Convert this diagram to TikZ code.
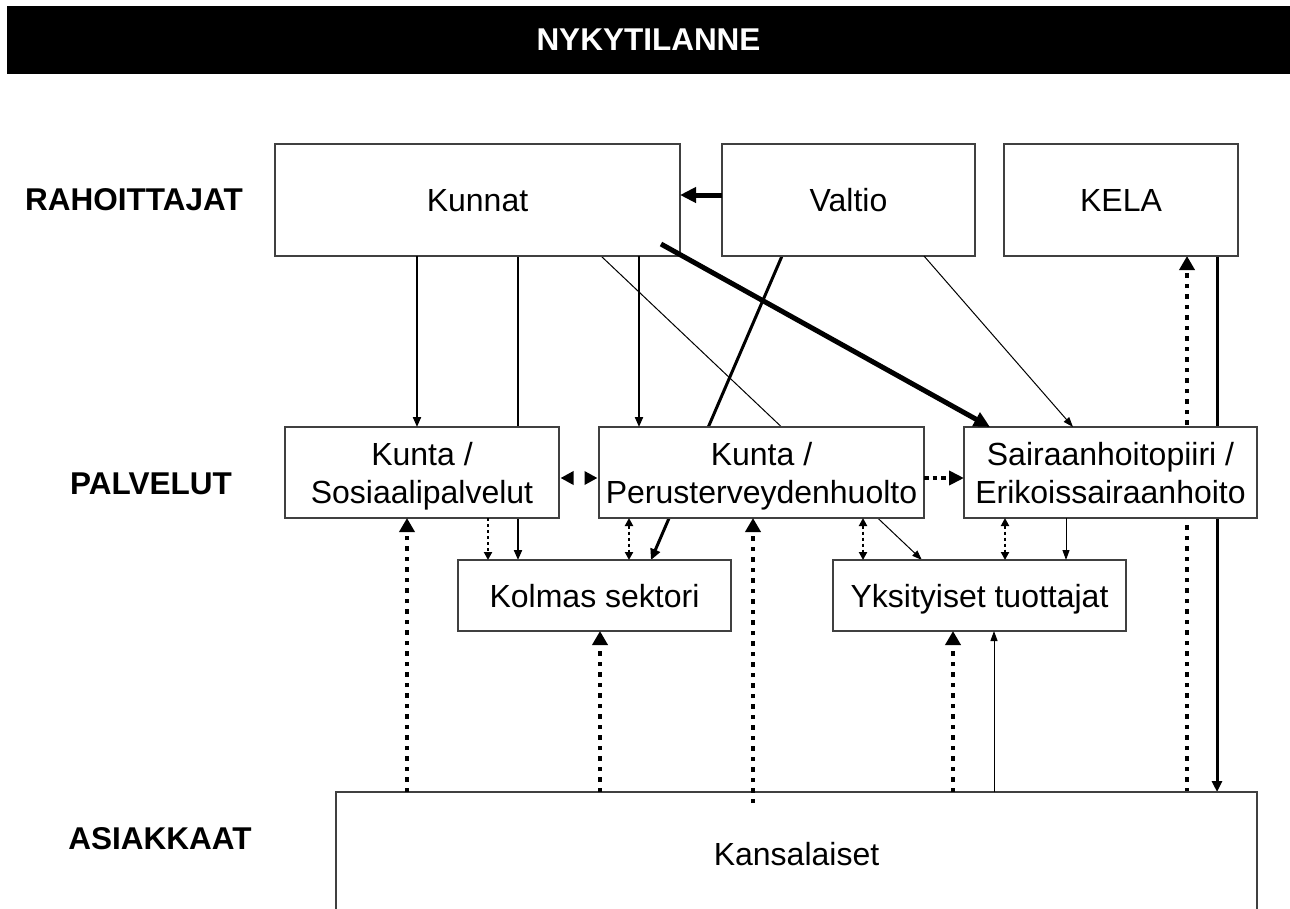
\documentclass[tikz,border=0pt]{standalone}
\usepackage{fontspec}
\setmainfont{Liberation Sans}
\usetikzlibrary{arrows.meta,backgrounds}
\newcommand\bxfont{\fontsize{32}{38}\selectfont}
\newcommand\lbfont{\bfseries\fontsize{31.5}{36}\selectfont}
\tikzset{
  box/.style={draw=black!75, line width=1.5pt, fill=white, inner sep=0pt, outer sep=0pt, font=\bxfont, align=center, text depth=0pt},
  rowlbl/.style={font=\lbfont, inner sep=0pt},
  solidarr/.style={line width=2pt, -{Triangle[length=10pt,width=8pt]}},
  thinarr/.style={line width=1pt, -{Triangle[length=10pt,width=7pt]}},
  boldarr/.style={line width=5pt, -{Triangle[length=16pt,width=15pt]}},
  medarr/.style={line width=3pt, -{Triangle[length=11pt,width=10pt]}},
  bigdots/.style={line width=4.5pt, dash pattern=on 4.5pt off 6pt},
  bigdotarr/.style={bigdots, -{Triangle[length=14pt,width=15pt]}},
  smalldots/.style={line width=2.5pt, dash pattern=on 3pt off 3pt},
  smalldotarr/.style={smalldots, -{Triangle[length=8pt,width=8pt]}},
  smalldotboth/.style={smalldots, {Triangle[length=8pt,width=8pt]}-{Triangle[length=8pt,width=8pt]}},
  middotboth/.style={line width=4pt, dash pattern=on 0pt off 30pt, shorten <=1.5pt, shorten >=1.5pt, {Triangle[length=13pt,width=13pt]}-{Triangle[length=13pt,width=13pt]}},
  middotarr/.style={line width=4.5pt, dash pattern=on 4.5pt off 4pt, -{Triangle[length=15pt,width=14pt]}},
}
\begin{document}
\begin{tikzpicture}[x=1pt,y=-1pt]
\useasboundingbox (0,0) rectangle (1290,908);
\clip (0,0) rectangle (1290,908);

% title bar
\node[fill=black, text=white, font=\lbfont, minimum width=1283pt, minimum height=68pt, inner sep=0pt] (title) at (648.5,39.5) {NYKYTILANNE};

% row labels
\node[rowlbl] (rah) at (134,200) {RAHOITTAJAT};
\node[rowlbl] (pal) at (151,484) {PALVELUT};
\node[rowlbl] (asi) at (160,839) {ASIAKKAAT};

% boxes
\node[box, minimum width=405pt, minimum height=112pt] (kunnat) at (477.5,200) {Kunnat};
\node[box, minimum width=253pt, minimum height=112pt] (valtio) at (848.5,200) {Valtio};
\node[box, minimum width=234pt, minimum height=112pt] (kela) at (1121,200) {KELA};
\node[box, minimum width=274pt, minimum height=91pt] (sos) at (422,472.5) {Kunta /\\Sosiaalipalvelut};
\node[box, minimum width=325pt, minimum height=91pt] (perus) at (761.5,472.5) {Kunta /\\Perusterveydenhuolto};
\node[box, minimum width=293pt, minimum height=91pt] (sair) at (1110.5,472.5) {Sairaanhoitopiiri /\\Erikoissairaanhoito};
\node[box, minimum width=273pt, minimum height=71pt] (kolmas) at (594.5,595.5) {Kolmas sektori};
\node[box, minimum width=293pt, minimum height=71pt] (yks) at (979.5,595.5) {Yksityiset tuottajat};
\node[box, minimum width=921pt, minimum height=124pt] (kans) at (796.5,854) {Kansalaiset};

\coordinate (fstart) at (661,244);
\coordinate (tstart) at (753,803);

% connectors passing behind boxes
\begin{scope}[on background layer]
  \draw[solidarr] (kunnat.south -| 518,0) -- (kolmas.north -| 518,0);
  \draw[thinarr] (kunnat.south -| 601,0) -- (yks.north -| 922,0);
  \draw[medarr] (valtio.south -| 782,0) -- (kolmas.north -| 651,0);
  \draw[bigdotarr] (kans.north -| 1187,0) -- (kela.south -| 1187,0);
  \draw[medarr] (kela.south -| 1217,0) -- (kans.north -| 1217,0);
\end{scope}

% financing arrows
\draw[boldarr] (valtio.west |- 0,195) -- (kunnat.east |- 0,195);
\draw[solidarr] (kunnat.south -| 417,0) -- (sos.north -| 417,0);
\draw[solidarr] (kunnat.south -| 639,0) -- (perus.north -| 639,0);
\draw[boldarr] (fstart) -- (sair.north -| 990,0);
\draw[thinarr] (valtio.south -| 924,0) -- (sair.north -| 1073,0);

% service links
\draw[middotboth] (sos.east |- 0,478) -- (perus.west |- 0,478);
\draw[middotarr] (perus.east |- 0,478) -- (sair.west |- 0,478);
\draw[smalldotarr] (sos.south -| 488,0) -- (kolmas.north -| 488,0);
\draw[smalldotboth] (perus.south -| 629,0) -- (kolmas.north -| 629,0);
\draw[smalldotboth] (perus.south -| 863,0) -- (yks.north -| 863,0);
\draw[smalldotboth] (sair.south -| 1005,0) -- (yks.north -| 1005,0);
\draw[thinarr] (sair.south -| 1066,0) -- (yks.north -| 1066,0);

% citizens
\draw[bigdotarr] (kans.north -| 407,0) -- (sos.south -| 407,0);
\draw[bigdotarr] (kans.north -| 600,0) -- (kolmas.south -| 600,0);
\draw[bigdotarr] (tstart) -- (perus.south -| 753,0);
\draw[bigdotarr] (kans.north -| 953,0) -- (yks.south -| 953,0);
\draw[thinarr] (kans.north -| 994,0) -- (yks.south -| 994,0);
\end{tikzpicture}
\end{document}
